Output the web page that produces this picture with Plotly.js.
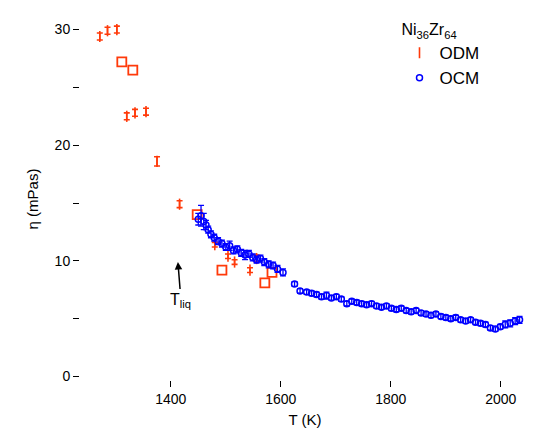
<!DOCTYPE html>
<html><head><meta charset="utf-8">
<script src="https://cdn.plot.ly/plotly-3.0.1.min.js"></script>
<style>body{margin:0;background:#fff}#chart{width:544px;height:432px}</style>
</head><body><div id="chart"></div>
<script>
// ODM (red) points drawn as error-bar ticks
const odmT = [1271,1285,1302,1320,1335,1355,1375,1416,1480,1504,1516,1544,1556];
const odmEta = [29.4,29.9,30.0,22.5,22.8,22.9,18.6,14.9,11.4,10.4,9.9,9.2,10.2];
const odmErr = [0.3,0.3,0.3,0.3,0.3,0.3,0.4,0.3,0.2,0.2,0.2,0.2,0.3];
// ODM (red) points drawn as open squares
const odmSqT = [1311,1331,1448,1493,1584,1571];
const odmSqEta = [27.2,26.5,14.0,9.2,9.0,8.1];
// OCM (blue)
const ocmT = [1450,1455,1460,1464,1468,1473,1479,1486,1493,1500,1507,1514,1521,1528,1535,1542,1549,1556,1563,1570,1578,1586,1594,1604,1625,1635,1647,1656,1665,1674,1683,1692,1701,1710,1720,1729,1738,1747,1756,1765,1774,1783,1792,1801,1810,1819,1828,1837,1846,1855,1864,1873,1882,1891,1900,1909,1918,1927,1936,1945,1954,1963,1972,1981,1990,1999,2008,2017,2026,2034];
const ocmEta = [13.6,13.9,13.4,13.1,12.7,12.3,12.0,11.7,11.5,11.2,11.3,10.9,11.0,10.7,10.5,10.6,10.3,10.1,10.2,9.9,9.7,9.6,9.3,9.0,8.0,7.4,7.3,7.2,7.1,6.9,7.0,6.8,6.9,6.7,6.3,6.5,6.4,6.3,6.2,6.3,6.1,6.0,6.1,5.9,5.8,5.9,5.7,5.6,5.7,5.5,5.4,5.3,5.4,5.2,5.1,5.0,5.1,4.9,4.8,4.9,4.7,4.6,4.5,4.2,4.1,4.3,4.5,4.6,4.8,4.9];
const ocmErr = [0.5,0.9,0.7,0.4,0.3,0.3,0.3,0.3,0.3,0.3,0.4,0.3,0.3,0.3,0.4,0.3,0.3,0.3,0.3,0.3,0.3,0.3,0.3,0.3,0.2,0.2,0.2,0.2,0.2,0.2,0.3,0.2,0.2,0.2,0.2,0.2,0.2,0.2,0.2,0.2,0.2,0.2,0.2,0.2,0.2,0.2,0.2,0.2,0.2,0.2,0.2,0.2,0.2,0.2,0.2,0.2,0.2,0.2,0.2,0.2,0.2,0.2,0.2,0.2,0.2,0.2,0.3,0.3,0.3,0.3];

const red = '#ff3a0a', blue = '#0000ff';
const FONT = 'Liberation Sans, Arial, sans-serif';

const traces = [
  {x: odmT, y: odmEta, type: 'scatter', mode: 'markers', name: 'ODM', legendgroup: 'odm',
   marker: {symbol: 'line-ns-open', size: 8, color: red, line: {color: red, width: 1.6}},
   error_y: {type: 'data', array: odmErr, visible: true, color: red, thickness: 1.6, width: 3}},
  {x: odmSqT, y: odmSqEta, type: 'scatter', mode: 'markers', name: 'ODM', legendgroup: 'odm', showlegend: false,
   marker: {symbol: 'square-open', size: 9, color: red, line: {color: red, width: 1.8}}},
  {x: ocmT, y: ocmEta, type: 'scatter', mode: 'markers', name: 'OCM',
   marker: {symbol: 'circle-open', size: 6, color: blue, line: {color: blue, width: 1.5}},
   error_y: {type: 'data', array: ocmErr, visible: true, color: blue, thickness: 1.3, width: 3}}
];

const layout = {
  width: 544, height: 432,
  margin: {l: 80, r: 14, t: 18, b: 52},
  paper_bgcolor: '#fff', plot_bgcolor: '#fff',
  font: {family: FONT, size: 14, color: '#000'},
  showlegend: true,
  legend: {x: 0.71, y: 1.01, xanchor: 'left', yanchor: 'top', bgcolor: 'rgba(0,0,0,0)',
           title: {text: 'Ni<sub>36</sub>Zr<sub>64</sub>', font: {size: 16}},
           font: {size: 17}, tracegroupgap: 0, itemwidth: 30},
  xaxis: {range: [1235, 2053], showgrid: false, zeroline: false, showline: false,
          tickvals: [1400, 1600, 1800, 2000], ticks: 'outside', ticklen: 6, tickcolor: '#000',
          title: {text: 'T (K)', font: {size: 15}, standoff: 8}},
  yaxis: {range: [-0.3, 31], showgrid: false, zeroline: false, showline: false,
          tickvals: [0, 10, 20, 30], ticks: 'outside', ticklen: 6, tickcolor: '#000',
          minor: {tickvals: [5, 15, 25], ticks: 'outside', ticklen: 6, tickcolor: '#000'},
          title: {text: 'η (mPas)', font: {size: 15}, standoff: 12}},
  annotations: [
    {x: 1413, y: 9.9, xref: 'x', yref: 'y', text: 'T<sub>liq</sub>', showarrow: true,
     ax: 3, ay: 38, arrowhead: 2, arrowsize: 1, arrowwidth: 1.5, arrowcolor: '#000',
     font: {size: 16, color: '#000'}}
  ]
};
Plotly.newPlot('chart', traces, layout, {displayModeBar: false, staticPlot: true});
</script></body></html>
